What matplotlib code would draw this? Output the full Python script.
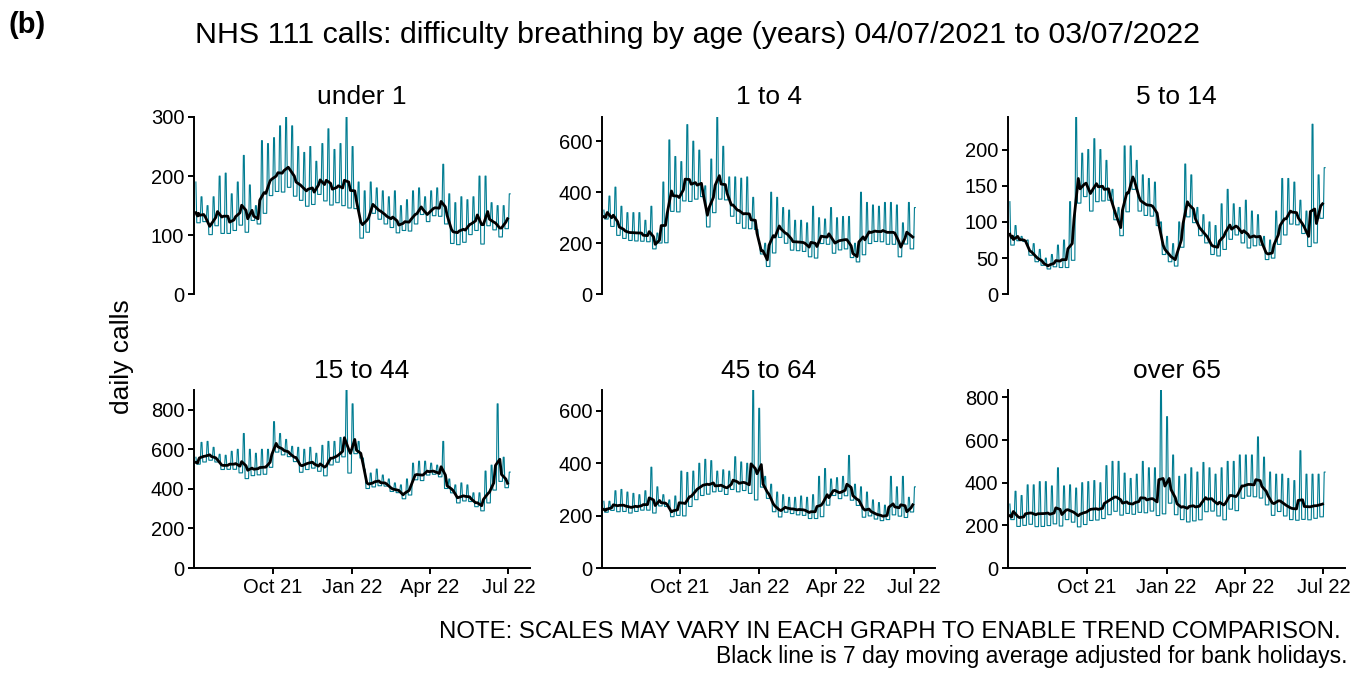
import numpy as np
import pandas as pd
import matplotlib
matplotlib.use('Agg')
import matplotlib.pyplot as plt
import matplotlib.dates as mdates

plt.rcParams['font.family'] = ['Liberation Sans', 'DejaVu Sans']

# ---------------- data ----------------
start_date = '2021-07-04'
n_days = 365
panel_titles = ['under 1', '1 to 4', '5 to 14', '15 to 44', '45 to 64', 'over 65']
y_ticks = [[0, 100, 200, 300], [0, 200, 400, 600], [0, 50, 100, 150, 200],
           [0, 200, 400, 600, 800], [0, 200, 400, 600], [0, 200, 400, 600, 800]]
x_tick_dates = ['2021-10-01', '2022-01-01', '2022-04-01', '2022-07-01']
x_tick_labels = ['Oct 21', 'Jan 22', 'Apr 22', 'Jul 22']

# weekly weekend (Sat+Sun) peak values and weekday (Mon-Fri) values, 53 weeks
hi_u1 = [190, 165, 150, 165, 200, 205, 170, 190, 235, 185, 150, 260, 255, 265, 285, 300, 285, 250, 240, 250,
         225, 255, 280, 245, 255, 300, 250, 190, 175, 190, 180, 175, 165, 175, 150, 160, 175, 180, 165, 175,
         180, 220, 170, 155, 165, 160, 165, 200, 200, 155, 150, 150, 170]
lo_u1 = [121, 123, 101, 116, 103, 103, 108, 117, 105, 125, 119, 137, 167, 174, 173, 181, 166, 159, 149, 152,
         169, 158, 151, 155, 150, 146, 145, 95, 105, 137, 127, 119, 113, 104, 108, 107, 119, 135, 123, 133,
         132, 119, 86, 84, 88, 101, 108, 85, 116, 109, 97, 111, 110]

hi_1_4 = [330, 385, 420, 345, 320, 320, 320, 290, 345, 240, 440, 605, 540, 520, 665, 600, 565, 425, 530, 695,
          580, 460, 460, 455, 460, 380, 200, 200, 400, 380, 340, 330, 290, 290, 280, 345, 300, 295, 340, 300,
          305, 305, 200, 400, 360, 350, 345, 360, 360, 350, 280, 360, 340]
lo_1_4 = [295, 266, 231, 219, 211, 209, 208, 206, 178, 201, 202, 325, 323, 366, 364, 373, 383, 264, 320, 373,
          370, 306, 278, 259, 257, 254, 158, 109, 162, 223, 200, 173, 171, 168, 147, 142, 199, 196, 161, 174,
          178, 144, 127, 155, 199, 207, 206, 196, 196, 147, 197, 178, 200]

hi_5_14 = [128, 95, 80, 75, 70, 62, 50, 55, 68, 75, 128, 245, 195, 200, 215, 200, 185, 145, 120, 205,
           205, 185, 165, 160, 155, 100, 80, 70, 100, 180, 165, 120, 110, 100, 95, 125, 145, 125, 120, 130,
           115, 110, 80, 75, 115, 160, 160, 155, 130, 115, 235, 165, 175]
lo_5_14 = [68, 74, 73, 54, 45, 40, 35, 38, 37, 37, 47, 126, 135, 115, 128, 129, 130, 103, 81, 114,
           145, 115, 109, 108, 95, 55, 45, 39, 65, 107, 99, 81, 71, 55, 53, 62, 76, 82, 71, 64,
           67, 68, 48, 50, 69, 82, 97, 96, 84, 66, 71, 105, 100]

hi_15_44 = [560, 635, 640, 610, 575, 570, 590, 600, 680, 600, 580, 600, 600, 740, 680, 650, 615, 610, 600, 610,
            580, 620, 640, 640, 660, 900, 830, 640, 500, 480, 500, 470, 450, 430, 420, 450, 530, 540, 540, 530,
            520, 640, 450, 420, 430, 420, 380, 380, 490, 520, 830, 560, 485]
lo_15_44 = [525, 536, 545, 536, 498, 499, 499, 481, 452, 467, 471, 474, 509, 586, 572, 563, 538, 484, 498, 505,
            489, 466, 521, 535, 562, 480, 578, 556, 402, 410, 416, 414, 387, 381, 350, 369, 446, 442, 470, 474,
            461, 402, 380, 329, 339, 336, 310, 289, 329, 394, 438, 406, 430]

hi_45_64 = [255, 255, 295, 300, 290, 285, 280, 295, 385, 310, 280, 260, 275, 370, 365, 370, 400, 415, 410, 370,
            375, 370, 425, 405, 400, 680, 610, 350, 320, 290, 280, 270, 270, 275, 270, 280, 350, 380, 340, 345,
            350, 430, 320, 310, 290, 260, 250, 240, 350, 310, 350, 270, 310]
lo_45_64 = [213, 220, 215, 216, 210, 216, 221, 221, 210, 237, 235, 196, 201, 199, 235, 261, 277, 282, 291, 293,
            281, 300, 291, 296, 285, 260, 309, 266, 215, 195, 213, 208, 203, 201, 189, 189, 196, 240, 277, 265,
            276, 259, 239, 194, 199, 187, 181, 185, 203, 198, 193, 214, 220]

hi_65 = [300, 360, 340, 390, 390, 405, 405, 385, 470, 385, 390, 375, 400, 405, 410, 400, 480, 500, 500, 445,
         420, 440, 500, 470, 470, 835, 710, 530, 430, 440, 470, 450, 495, 470, 440, 470, 500, 500, 530, 530,
         530, 615, 520, 450, 440, 440, 420, 410, 550, 440, 440, 440, 450]
lo_65 = [227, 195, 200, 205, 194, 195, 199, 207, 197, 227, 215, 193, 204, 223, 225, 232, 250, 266, 248, 256,
         252, 261, 259, 267, 246, 254, 304, 250, 227, 216, 221, 226, 264, 267, 244, 226, 276, 269, 327, 337,
         334, 328, 296, 247, 265, 244, 227, 224, 228, 226, 233, 240, 240]

weekend_hi = [hi_u1, hi_1_4, hi_5_14, hi_15_44, hi_45_64, hi_65]
weekday_lo = [lo_u1, lo_1_4, lo_5_14, lo_15_44, lo_45_64, lo_65]

# ---------------- build daily series ----------------
dates = pd.date_range(start_date, periods=n_days, freq='D')


def daily_series(hi, lo):
    vals = []
    for d in range(n_days):
        w, pos = divmod(d + 1, 7)
        vals.append(hi[w] if pos in (0, 1) else lo[w])
    return pd.Series(vals, index=dates, dtype=float)


# ---------------- figure ----------------
fig = plt.figure(figsize=(13.67, 6.75), dpi=100)
W, H = 1367, 675
col_px = [(194, 530), (602, 935), (1008, 1345)]
row_px = [(117, 294.3), (390, 568)]
teal = '#007C91'

xmin = pd.Timestamp(start_date) - pd.Timedelta(days=2.2)
xmax = pd.Timestamp(start_date) + pd.Timedelta(days=387)

for i in range(6):
    r, c = divmod(i, 3)
    l, rr = col_px[c]
    t, b = row_px[r]
    ax = fig.add_axes([l / W, 1 - b / H, (rr - l) / W, (b - t) / H])
    s = daily_series(weekend_hi[i], weekday_lo[i])
    ma = s.rolling(7, center=True, min_periods=4).mean().iloc[:-3]
    ax.plot(s.index, s.values, color=teal, lw=0.8)
    ax.plot(ma.index, ma.values, color='black', lw=2.0)
    ax.set_ylim(0, s.max())
    ax.set_xlim(xmin, xmax)
    ax.set_yticks(y_ticks[i])
    for sp in ['top', 'right']:
        ax.spines[sp].set_visible(False)
    ax.spines['left'].set_linewidth(1.4)
    ax.spines['bottom'].set_linewidth(1.4)
    ax.tick_params(axis='both', length=4, width=1.4, labelsize=14.5, pad=3, colors='black')
    if r == 0:
        ax.spines['bottom'].set_visible(False)
        ax.set_xticks([])
    else:
        ax.set_xticks(pd.to_datetime(x_tick_dates))
        ax.set_xticklabels(x_tick_labels)
    ax.set_title(panel_titles[i], fontsize=19, pad=9)
    ax.patch.set_alpha(0)

fig.text(697 / W, 1 - 35 / H, 'NHS 111 calls: difficulty breathing by age (years) 04/07/2021 to 03/07/2022',
         ha='center', va='center', fontsize=21.9)
fig.text(8 / W, 1 - 25 / H, '(b)', ha='left', va='center', fontsize=21, fontweight='bold')
fig.text(122 / W, 1 - 357 / H, 'daily calls', rotation=90, ha='center', va='center', fontsize=19)
fig.text(1341 / W, 1 - 632 / H, 'NOTE: SCALES MAY VARY IN EACH GRAPH TO ENABLE TREND COMPARISON.',
         ha='right', va='center', fontsize=17.25)
fig.text(1348 / W, 1 - 657 / H, 'Black line is 7 day moving average adjusted for bank holidays.',
         ha='right', va='center', fontsize=16.5)

fig.savefig('out.png', dpi=100)
